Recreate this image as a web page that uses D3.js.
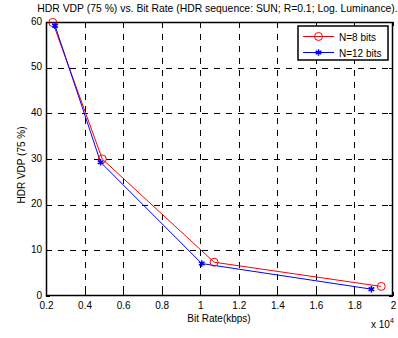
<!DOCTYPE html>
<html><head><meta charset="utf-8">
<script src="https://cdn.jsdelivr.net/npm/d3@7"></script>
<style>body{margin:0;background:#fff}svg{display:block}text{font-family:"Liberation Sans",Arial,sans-serif;fill:#000}</style>
</head><body><svg id="c" width="398" height="338"></svg>
<script>
const bitRate8 = [2350, 4920, 10720, 19390];
const vdp8 = [59.9, 30.0, 7.4, 2.1];
const bitRate12 = [2470, 4830, 10080, 18880];
const vdp12 = [59.2, 29.3, 7.1, 1.5];
const xTicks = [2000, 4000, 6000, 8000, 10000, 12000, 14000, 16000, 18000, 20000];
const xTickLabels = ["0.2","0.4","0.6","0.8","1","1.2","1.4","1.6","1.8","2"];
const yTicks = [0, 10, 20, 30, 40, 50, 60];
const seriesNames = ["N=8 bits", "N=12 bits"];
const title = "HDR VDP (75 %) vs. Bit Rate (HDR sequence: SUN; R=0.1; Log. Luminance).";

const svg = d3.select("#c");
const L = 46, R = 393, T = 22, B = 296;
const x = d3.scaleLinear().domain([2000, 20000]).range([L, R]);
const y = d3.scaleLinear().domain([0, 60]).range([B, T]);

// grid
const g = svg.append("g");
g.selectAll(".vg").data(xTicks.slice(1, -1)).join("line")
  .attr("x1", d => Math.round(x(d)) + 0.5).attr("x2", d => Math.round(x(d)) + 0.5)
  .attr("y1", T).attr("y2", B)
  .attr("stroke", "#000").attr("stroke-dasharray", "6,6").attr("stroke-width", 1);
g.selectAll(".hg").data(yTicks.slice(1, -1)).join("line")
  .attr("y1", d => Math.round(y(d)) + 0.5).attr("y2", d => Math.round(y(d)) + 0.5)
  .attr("x1", L).attr("x2", R)
  .attr("stroke", "#000").attr("stroke-dasharray", "6,6").attr("stroke-width", 1);

// axes
const xAxis = d3.axisBottom(x).tickValues(xTicks).tickFormat((d, i) => xTickLabels[i]).tickSize(0).tickPadding(6);
const yAxis = d3.axisLeft(y).tickValues(yTicks).tickSize(0).tickPadding(4);
const xa = svg.append("g").attr("transform", `translate(0,${B})`).call(xAxis);
const ya = svg.append("g").attr("transform", `translate(${L},0)`).call(yAxis);
[xa, ya].forEach(a => { a.select(".domain").remove(); a.selectAll("text").attr("font-size", 10).attr("font-family", "Liberation Sans, Arial, sans-serif"); });
ya.selectAll("text").attr("y", -1);
// inner ticks
svg.append("g").selectAll("line").data(xTicks).join("line")
  .attr("x1", d => Math.round(x(d)) + 0.5).attr("x2", d => Math.round(x(d)) + 0.5)
  .attr("y1", B).attr("y2", B - 4).attr("stroke", "#000");
svg.append("g").selectAll("line").data(xTicks).join("line")
  .attr("x1", d => Math.round(x(d)) + 0.5).attr("x2", d => Math.round(x(d)) + 0.5)
  .attr("y1", T).attr("y2", T + 4).attr("stroke", "#000");
svg.append("g").selectAll("line").data(yTicks).join("line")
  .attr("y1", d => Math.round(y(d)) + 0.5).attr("y2", d => Math.round(y(d)) + 0.5)
  .attr("x1", L).attr("x2", L + 4).attr("stroke", "#000");
svg.append("g").selectAll("line").data(yTicks).join("line")
  .attr("y1", d => Math.round(y(d)) + 0.5).attr("y2", d => Math.round(y(d)) + 0.5)
  .attr("x1", R).attr("x2", R - 4).attr("stroke", "#000");
svg.append("rect").attr("x", L + 0.5).attr("y", T + 0.5).attr("width", R - L - 1).attr("height", B - T - 1)
  .attr("fill", "none").attr("stroke", "#000").attr("stroke-width", 1.5);

// lines
const line = d3.line().x(d => x(d[0])).y(d => y(d[1]));
const s8 = bitRate8.map((b, i) => [b, vdp8[i]]);
const s12 = bitRate12.map((b, i) => [b, vdp12[i]]);
svg.append("path").datum(s8).attr("d", line).attr("fill", "none").attr("stroke", "#f00").attr("stroke-width", 1);
svg.append("path").datum(s12).attr("d", line).attr("fill", "none").attr("stroke", "#00f").attr("stroke-width", 1);

function circle(sel, cx, cy) {
  sel.append("circle").attr("cx", cx).attr("cy", cy).attr("r", 4).attr("fill", "none").attr("stroke", "#f00").attr("stroke-width", 1);
}
function star(sel, cx, cy) {
  sel.append("path").attr("d", d3.symbol().type(d3.symbolAsterisk || d3.symbolCross).size(30)())
    .attr("transform", `translate(${cx},${cy})`).attr("fill", "none").attr("stroke", "#00f").attr("stroke-width", 1.5);
}
s8.forEach(d => circle(svg, x(d[0]), y(d[1])));
s12.forEach(d => star(svg, x(d[0]), y(d[1])));

// legend
const lg = svg.append("g");
lg.append("rect").attr("x", 298).attr("y", 26).attr("width", 90).attr("height", 34).attr("fill", "#fff").attr("stroke", "#000").attr("stroke-width", 1.5);
const rows = [{c: "#f00", y: 36.5, m: circle}, {c: "#00f", y: 52.5, m: star}];
rows.forEach((r, i) => {
  lg.append("line").attr("x1", 303).attr("x2", 334).attr("y1", r.y).attr("y2", r.y).attr("stroke", r.c);
  r.m(lg, 318.5, r.y);
  lg.append("text").attr("x", 339).attr("y", r.y + 4).attr("font-size", 10).text(seriesNames[i]);
});

// titles
svg.append("text").attr("x", 217.5).attr("y", 12).attr("text-anchor", "middle").attr("font-size", 10.4).text(title);
svg.append("text").attr("x", 219).attr("y", 322).attr("text-anchor", "middle").attr("font-size", 10).text("Bit Rate(kbps)");
const xm = svg.append("text").attr("x", 371).attr("y", 328).attr("font-size", 10);
xm.append("tspan").text("x 10");
xm.append("tspan").attr("dy", -5).attr("font-size", 7).text("4");
svg.append("text").attr("transform", "translate(25,165) rotate(-90)").attr("text-anchor", "middle").attr("font-size", 10).text("HDR VDP (75 %)");
</script></body></html>
